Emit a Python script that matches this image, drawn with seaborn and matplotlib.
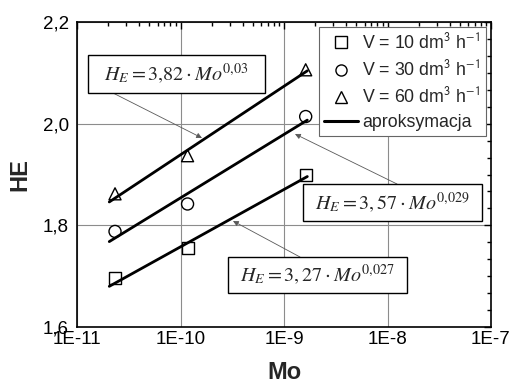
import numpy as np
import pandas as pd
import matplotlib
matplotlib.use("Agg")
import matplotlib.pyplot as plt
from matplotlib.lines import Line2D
from matplotlib.patches import Rectangle
from matplotlib.ticker import FixedLocator, FixedFormatter, MultipleLocator, LogLocator, NullFormatter
import seaborn as sns

# ---- data ----
mo = [2.33e-11, 1.17e-10, 1.62e-9]
he_v10 = [1.696, 1.756, 1.899]
he_v30 = [1.788, 1.842, 2.014]
he_v60 = [1.862, 1.937, 2.106]

fit_mo = [2.05e-11, 1.68e-9]
fit_v10 = [1.680, 1.896]
fit_v30 = [1.768, 2.007]
fit_v60 = [1.846, 2.104]

series_labels = ["V = 10 dm$^{\\mathsf{3}}$ h$^{\\mathsf{-1}}$",
                 "V = 30 dm$^{\\mathsf{3}}$ h$^{\\mathsf{-1}}$",
                 "V = 60 dm$^{\\mathsf{3}}$ h$^{\\mathsf{-1}}$"]
fit_label = "aproksymacja"

x_ticks = [1e-11, 1e-10, 1e-9, 1e-8, 1e-7]
x_ticklabels = ["1E-11", "1E-10", "1E-9", "1E-8", "1E-7"]
y_ticks = [1.6, 1.8, 2.0, 2.2]
y_ticklabels = ["1,6", "1,8", "2,0", "2,2"]

eq_texts = [r"$H_E = 3{,}82\cdot Mo^{0{,}03}$",
            r"$H_E = 3,57\cdot Mo^{0{,}029}$",
            r"$H_E = 3,27\cdot Mo^{0{,}027}$"]

# ---- style ----
sns.set_style("white")
plt.rcParams["font.family"] = ["Liberation Sans", "DejaVu Sans"]
plt.rcParams["mathtext.fontset"] = "stix"

W, H = 514, 385
fig = plt.figure(figsize=(W / 100, H / 100), dpi=100)
ax = fig.add_axes([77 / W, 1 - 327 / H, (491 - 77) / W, (327 - 22) / H])

df = pd.DataFrame({
    "Mo": mo * 3,
    "HE": he_v10 + he_v30 + he_v60,
    "V": ["10"] * 3 + ["30"] * 3 + ["60"] * 3,
})
fit_df = pd.DataFrame({
    "Mo": fit_mo * 3,
    "HE": fit_v10 + fit_v30 + fit_v60,
    "V": ["10"] * 2 + ["30"] * 2 + ["60"] * 2,
})

ax.set_xscale("log")

for v in ["10", "30", "60"]:
    sub = fit_df[fit_df["V"] == v]
    sns.lineplot(data=sub, x="Mo", y="HE", ax=ax, color="black", lw=2.0,
                 legend=False, zorder=3)

marker_map = {"10": "s", "30": "o", "60": "^"}
for v in ["10", "30", "60"]:
    sub = df[df["V"] == v]
    ax.scatter(sub["Mo"], sub["HE"], marker=marker_map[v], s=75,
               facecolors="none", edgecolors="black", linewidths=1.0, zorder=4)

ax.set_xlim(1e-11, 1e-7)
ax.set_ylim(1.6, 2.2)

ax.xaxis.set_major_locator(FixedLocator(x_ticks))
ax.xaxis.set_major_formatter(FixedFormatter(x_ticklabels))
ax.xaxis.set_minor_locator(LogLocator(base=10, subs=np.arange(2, 10), numticks=20))
ax.xaxis.set_minor_formatter(NullFormatter())
ax.yaxis.set_major_locator(FixedLocator(y_ticks))
ax.yaxis.set_major_formatter(FixedFormatter(y_ticklabels))
ax.yaxis.set_minor_locator(MultipleLocator(0.2 / 6))

ax.tick_params(which="both", direction="in", top=True, right=True, width=1.0, colors="black")
ax.tick_params(which="major", length=5, labelsize=13.5)
ax.tick_params(which="minor", length=3)
ax.tick_params(axis="y", which="major", pad=6)
ax.tick_params(axis="x", which="major", pad=3)

ax.grid(True, which="major", color="0.55", lw=0.8)
ax.set_axisbelow(True)
for s in ax.spines.values():
    s.set_linewidth(1.2)
    s.set_color("black")

ax.set_xlabel("Mo", fontsize=17, fontweight="bold", labelpad=9)
ax.set_ylabel("HE", fontsize=17, fontweight="bold", labelpad=8)

# legend
handles = [Line2D([], [], marker="s", ls="none", mfc="none", mec="black", ms=8),
           Line2D([], [], marker="o", ls="none", mfc="none", mec="black", ms=8),
           Line2D([], [], marker="^", ls="none", mfc="none", mec="black", ms=8),
           Line2D([], [], color="black", lw=2.2)]
leg = ax.legend(handles, series_labels + [fit_label], loc="upper right",
                fontsize=12.8, frameon=True, fancybox=False, edgecolor="0.4",
                framealpha=1, handlelength=1.9, handletextpad=0.25,
                labelspacing=0.4, borderpad=0.3, borderaxespad=0.3)
leg.get_frame().set_linewidth(0.8)

# equation boxes (figure pixel coordinates)
def fx(x):
    return x / W

def fy(y):
    return 1 - y / H

boxes = [(88, 55, 265, 93), (303, 184, 482, 221), (228, 257, 407, 293)]
arrows = [((113, 93), (202, 138)), ((397, 184), (295, 134)), ((300, 257), (233, 221))]
for (x0, y0, x1, y1), txt, (start, tip) in zip(boxes, eq_texts, arrows):
    ax.annotate("", xy=(fx(tip[0]), fy(tip[1])), xycoords="figure fraction",
                xytext=(fx(start[0]), fy(start[1])), textcoords="figure fraction",
                arrowprops=dict(arrowstyle="-|>", color="0.35", lw=0.6,
                                mutation_scale=8, shrinkA=0, shrinkB=0),
                zorder=5)
    fig.patches.append(Rectangle((fx(x0), fy(y1)), fx(x1 - x0), (y1 - y0) / H,
                                 transform=fig.transFigure, facecolor="white",
                                 edgecolor="black", lw=1.0, zorder=6))
    fig.text(fx((x0 + x1) / 2), fy((y0 + y1) / 2), txt, ha="center", va="center",
             fontsize=14.5, zorder=7)

fig.savefig("out.png", dpi=100)
